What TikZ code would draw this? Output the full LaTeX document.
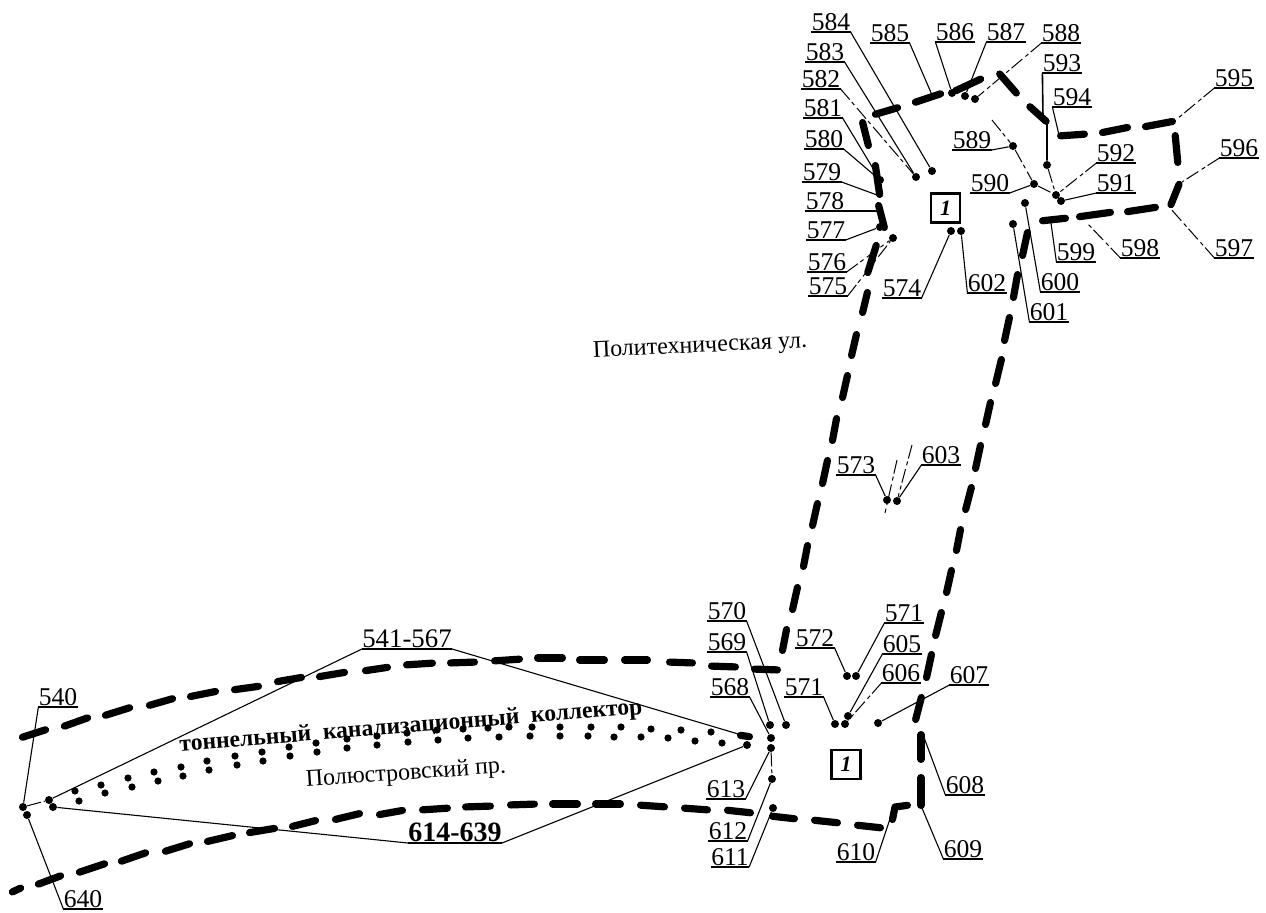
\documentclass[tikz,border=0pt]{standalone}
\usepackage{fontspec}
\setmainfont{Liberation Serif}
\tikzset{
  lab/.style={inner xsep=0pt,inner ysep=0.7pt,text depth=0pt,font=\fontsize{12.8}{13}\selectfont,anchor=south},
  rangelab/.style={lab,font=\fontsize{13.4}{14}\selectfont},
  boldlab/.style={lab,font=\fontsize{14}{15}\selectfont\bfseries},
  ul/.style={line width=0.85pt},
  ldr/.style={line width=0.55pt},
  faint/.style={line width=0.5pt,dash pattern=on 7pt off 1.5pt on 2pt off 2pt},
  pnt/.style={circle,fill=black,inner sep=0pt,minimum size=4pt},
  thick dash/.style={line width=3.6pt,line cap=round,shorten >=1.3pt,shorten <=1.3pt},
  numbox/.style={draw,line width=1.1pt,minimum size=14.5pt,inner sep=0pt,font=\fontsize{11}{12}\selectfont\bfseries\itshape},
  street/.style={inner sep=0pt,font=\fontsize{12}{13}\selectfont},
}
% #1 name, #2 text, #3 centre x, #4 underline y
\newcommand{\mklab}[4]{\node[lab] (L#1) at (#3,#4) {#2}; \draw[ul] (L#1.south west) -- (L#1.south east);}
% #1 name, #2 x, #3 y
\newcommand{\mkdot}[3]{\node[pnt] (D#1) at (#2,#3) {};}
\begin{document}
\begin{tikzpicture}[x=0.5pt,y=-0.5pt]
\useasboundingbox (0,0) rectangle (1266,912);

% thick dashed collector routes
\foreach \xa/\ya/\xb/\yb in {
 20/738/48/729, 62/727/90/717, 103/716/132/707, 147/706/175/698, 188/697/218/691,
 232/690/261/686, 275/682/304/677, 317/677/347/672, 363/671/390/667, 404/665/435/663,
 448/663/477/662, 492/661/522/659, 535/658/565/658, 577/660/607/660, 622/660/650/660,
 667/662/695/663, 709/666/738/667, 752/669/780/670,
 10/893/23/887, 36/885/63/875, 77/873/107/863, 119/862/148/852, 163/852/192/843,
 205/842/235/835, 247/833/277/828, 290/827/318/820, 333/820/362/813, 377/815/405/810,
 420/810/450/808, 463/807/493/806, 508/805/537/804, 550/804/580/804, 593/804/623/804,
 638/805/667/807, 682/808/710/810, 725/810/753/813, 770/816/797/819, 812/820/840/823,
 855/825/883/828,
 921/732/921/762, 921/775/921/808,
 922/695/915/722, 932/652/926/680, 942/610/935/638, 952/568/946/595, 961/527/956/553,
 972/485/965/512, 981/443/975/471, 991/400/985/427, 1002/357/995/386, 1010/315/1004/343,
 1018/272/1013/300, 1028/230/1022/258,
 787/627/782/653, 798/585/792/612, 808/543/803/569, 818/501/812/528, 828/458/822/486,
 837/416/832/443, 848/373/842/400, 857/332/851/358, 868/290/862/315, 877/243/867/275,
 878/203/885/230, 875/163/880/197, 862/120/869/148,
 873/115/900/107, 913/103/943/93, 953/92/983/78, 998/72/1018/95, 1028/105/1048/123,
 1058/136/1087/134, 1100/133/1130/127, 1143/127/1175/121, 1175/133/1178/165,
 1180/182/1170/207, 1158/207/1125/212, 1113/212/1077/217, 1068/218/1040/221}
 {\draw[thick dash] (\xa,\ya) -- (\xb,\yb);}
\draw[thick dash,line join=round] (910,805) -- (895,807) -- (892,822);
\draw[thick dash] (738,735) -- (752,737);

% twin rows of dots of the tunnel collector
\foreach \x/\y in {
 75/791,101/785,128/778,154/772,181/767,207/761,235/756,262/752,289/747,316/743,347/739,377/736,
 407/733,437/730,463/729,488/728,509/727,532/727,560/727,591/727,621/727,651/729,681/730,711/732,
 79/801,105/793,132/787,158/781,183/776,209/770,237/765,263/761,290/756,317/752,347/748,377/745,
 408/742,438/740,468/738,499/737,530/736,560/736,588/736,614/737,641/737,668/738,695/741,722/743}
 {\fill (\x,\y) circle[radius=3.6];}

% boxes and street names
\node[numbox] (B1) at (945.5,208) {1};
\node[numbox] (B2) at (846,764.5) {1};
\node[street,rotate=2.7] (S1) at (700,347) {Политехническая ул.};
\node[street,rotate=4] (S2) at (406,774) {Полюстровский пр.};
\node[inner sep=0pt,rotate=4.6,font=\fontsize{11.8}{12}\selectfont\bfseries] (S3) at (411,727) {тоннельный\ \ канализационный\ \ коллектор};

% labels
\mklab{540}{540}{58}{707}
\mklab{640}{640}{83}{909}
\node[rangelab] (L541) at (407,649) {541-567}; \draw[ul] (L541.south west) -- (L541.south east);
\node[boldlab] (L614) at (455,843) {614-639}; \draw[ul] (L614.south west) -- (L614.south east);
\mklab{568}{568}{730}{697}
\mklab{569}{569}{727}{652}
\mklab{570}{570}{727}{621}
\mklab{571a}{571}{804}{697}
\mklab{572}{572}{815}{648}
\mklab{571b}{571}{904}{623}
\mklab{573}{573}{856}{475}
\mklab{574}{574}{902}{298}
\mklab{575}{575}{828}{296}
\mklab{576}{576}{827}{272}
\mklab{577}{577}{826}{240}
\mklab{578}{578}{825}{211}
\mklab{579}{579}{822}{182}
\mklab{580}{580}{824}{149}
\mklab{581}{581}{823}{118}
\mklab{582}{582}{821}{89}
\mklab{583}{583}{825}{62}
\mklab{584}{584}{831}{32}
\mklab{585}{585}{890}{43}
\mklab{586}{586}{955}{42}
\mklab{587}{587}{1006}{42}
\mklab{588}{588}{1061}{43}
\mklab{589}{589}{972}{150}
\mklab{590}{590}{990}{193}
\mklab{591}{591}{1116}{193}
\mklab{592}{592}{1116}{163}
\mklab{593}{593}{1062}{73}
\mklab{594}{594}{1072}{107}
\mklab{595}{595}{1234}{88}
\mklab{596}{596}{1239}{158}
\mklab{597}{597}{1234}{258}
\mklab{598}{598}{1140}{258}
\mklab{599}{599}{1076}{262}
\mklab{600}{600}{1060}{292}
\mklab{601}{601}{1049}{322}
\mklab{602}{602}{987}{293}
\mklab{603}{603}{941}{465}
\mklab{605}{605}{902}{654}
\mklab{606}{606}{901}{683}
\mklab{607}{607}{969}{685}
\mklab{608}{608}{965}{795}
\mklab{609}{609}{963}{859}
\mklab{610}{610}{856}{862}
\mklab{611}{611}{730}{867}
\mklab{612}{612}{728}{841}
\mklab{613}{613}{726}{799}

% points
\mkdot{540}{23}{807}
\mkdot{640}{27}{815}
\mkdot{541}{49}{800}
\mkdot{614}{53}{807}
\mkdot{639}{747}{745}
\mkdot{568}{771}{738}
\mkdot{569}{770}{725}
\mkdot{570}{786}{725}
\mkdot{571a}{835}{724}
\mkdot{572}{847}{676}
\mkdot{571b}{856}{676}
\mkdot{573}{887}{500}
\mkdot{574}{951}{231}
\mkdot{602}{961}{231}
\mkdot{603}{897}{501}
\mkdot{575}{893}{238}
\mkdot{577}{880}{227}
\mkdot{580}{880}{180}
\mkdot{583}{916}{177}
\mkdot{584}{932}{171}
\mkdot{586}{952}{93}
\mkdot{587}{965}{96}
\mkdot{588}{975}{99}
\mkdot{589}{1013}{146}
\mkdot{590}{1034}{184}
\mkdot{591}{1056}{195}
\mkdot{592}{1061}{201}
\mkdot{593}{1047}{165}
\mkdot{600}{1025}{203}
\mkdot{601}{1013}{224}
\mkdot{605}{848}{716}
\mkdot{606}{845}{724}
\mkdot{607}{878}{723}
\mkdot{611}{773}{808}
\mkdot{612}{772}{779}
\mkdot{613}{771}{748}
\coordinate (C567) at (745,736);
\coordinate (C578) at (877,211);
\coordinate (C579) at (877,195);
\coordinate (C585) at (932,95);
\coordinate (C594) at (1059,135);
\coordinate (C595) at (1177,119);
\coordinate (C596) at (1182,182);
\coordinate (C597) at (1170,208);
\coordinate (C598) at (1087,223);
\coordinate (C599) at (1051,223);
\coordinate (C608) at (922,732);
\coordinate (C609) at (922,808);
\coordinate (C610) at (893,810);
\coordinate (C593a) at (1043,117);
\coordinate (C593b) at (1047,124);
\coordinate (F573a) at (897,460);
\coordinate (F573b) at (885,513);
\coordinate (F603) at (912,445);
\coordinate (F589) at (992,120);

% leaders
\draw[ldr] (L540.south west) -- (D540);
\draw[ldr] (L640.south west) -- (D640);
\draw[ldr] (L541.south west) -- (D541);
\draw[ldr] (L541.south east) -- (C567);
\draw[ldr] (L614.south west) -- (D614);
\draw[ldr] (L614.south east) -- (D639);
\draw[ldr] (L568.south east) -- (D568);
\draw[ldr] (L569.south east) -- (D569);
\draw[ldr] (L570.south east) -- (D570);
\draw[ldr] (L571a.south east) -- (D571a);
\draw[ldr] (L572.south east) -- (D572);
\draw[ldr] (L571b.south west) -- (D571b);
\draw[ldr] (L573.south east) -- (D573);
\draw[ldr] (L603.south west) -- (D603);
\draw[ldr] (L574.south east) -- (D574);
\draw[ldr] (L602.south west) -- (D602);
\draw[faint] (L575.south east) -- (D575);
\draw[faint] (L576.south east) -- (D575);
\draw[ldr] (L577.south east) -- (D577);
\draw[ldr] (L578.south east) -- (C578);
\draw[ldr] (L579.south east) -- (C579);
\draw[ldr] (L580.south east) -- (D580);
\draw[ldr] (L581.south east) -- (D580);
\draw[faint] (L582.south east) -- (D583);
\draw[ldr] (L583.south east) -- (D583);
\draw[ldr] (L584.south east) -- (D584);
\draw[ldr] (L585.south east) -- (C585);
\draw[ldr] (L586.south west) -- (D586);
\draw[ldr] (L587.south west) -- (D587);
\draw[faint] (L588.south west) -- (D588);
\draw[ldr] (L589.south east) -- (D589);
\draw[faint] (F589) -- (D589);
\draw[faint] (D589) -- (D590);
\draw[ldr] (L590.south east) -- (D590);
\draw[faint] (D590) -- (D591);
\draw[ldr] (L591.south west) -- (D592);
\draw[faint] (L592.south west) -- (D591);
\draw[line width=0.8pt] (L593.south west) -- (C593a) -- (C593b) -- (D593);
\draw[faint] (D593) -- (D591);
\draw[ldr] (L594.south west) -- (C594);
\draw[faint] (L595.south west) -- (C595);
\draw[faint] (L596.south west) -- (C596);
\draw[faint] (L597.south west) -- (C597);
\draw[faint] (L598.south west) -- (C598);
\draw[ldr] (L599.south west) -- (C599);
\draw[ldr] (L600.south west) -- (D600);
\draw[ldr] (L601.south west) -- (D601);
\draw[faint] (F573a) -- (F573b);
\draw[faint] (F603) -- (D603);
\draw[ldr] (L605.south west) -- (D605);
\draw[faint] (L606.south west) -- (D606);
\draw[ldr] (L607.south west) -- (D607);
\draw[ldr] (L608.south west) -- (C608);
\draw[ldr] (L609.south west) -- (C609);
\draw[ldr] (L610.south east) -- (C610);
\draw[ldr] (L611.south east) -- (D611);
\draw[ldr] (L612.south east) -- (D612);
\draw[ldr] (L613.south east) -- (D613);
\draw[faint] (D613) -- (D612);
\draw[faint] (D540) -- (D541);
\end{tikzpicture}
\end{document}
